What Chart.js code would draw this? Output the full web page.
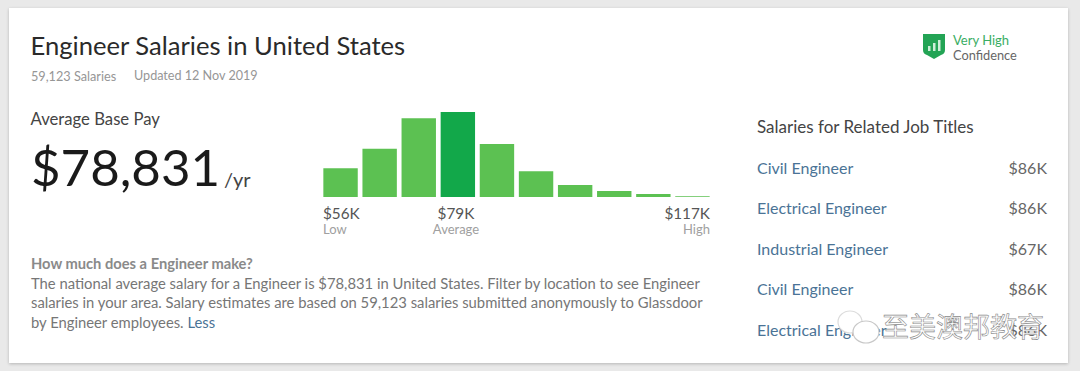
<!DOCTYPE html>
<html>
<head>
<meta charset="utf-8">
<script src="https://cdn.jsdelivr.net/npm/chart.js@4/dist/chart.umd.min.js"></script>
<style>
html,body{margin:0;padding:0;width:1080px;height:371px;overflow:hidden;background:#e9e9e9;font-family:Lato,sans-serif;}
body{filter:blur(.35px);}
#card{position:absolute;left:9px;top:8px;width:1059px;height:355px;background:#fff;box-shadow:0 1px 3px rgba(0,0,0,.22);}
.t{position:absolute;white-space:nowrap;line-height:1;}
#chartBox{position:absolute;left:321px;top:107px;width:391px;height:90px;}
a{color:#4a7396;text-decoration:none;}
</style>
</head>
<body>
<div id="card"></div>
<div class="t" style="left:30.5px;top:33px;font-size:25.6px;color:#2a2a2a;">Engineer Salaries in United States</div>
<div class="t" style="left:31px;top:70px;font-size:12.7px;color:#969696;">59,123 Salaries</div>
<div class="t" style="left:134px;top:70px;font-size:12.6px;color:#969696;">Updated 12 Nov 2019</div>

<svg style="position:absolute;left:922px;top:33px" width="24" height="28" viewBox="0 0 24 28">
  <path d="M1 1H23V17Q23 21 19 22L12 26L5 22Q1 21 1 17Z" fill="#23a455"/>
  <rect x="6" y="13" width="2.5" height="5" fill="#cdeed8"/>
  <rect x="11" y="10" width="2.5" height="8" fill="#cdeed8"/>
  <rect x="16" y="7" width="2.5" height="11" fill="#cdeed8"/>
</svg>
<div class="t" style="left:953px;top:34px;font-size:13px;color:#3aad63;">Very High</div>
<div class="t" style="left:953px;top:49px;font-size:12.8px;color:#666;">Confidence</div>

<div class="t" style="left:30.5px;top:111px;font-size:16.7px;color:#444;">Average Base Pay</div>
<div class="t" style="left:31px;top:141px;font-size:51px;color:#1a1a1a;">$78,831</div>
<div class="t" style="left:224px;top:169px;font-size:20px;color:#444;">/yr</div>

<div id="chartBox"><canvas id="salaryChart"></canvas></div>
<div id="tickBox"></div>

<div class="t" style="left:31px;top:256px;font-size:14.7px;font-weight:700;color:#8a8a8a;">How much does a Engineer make?</div>
<div class="t" style="left:31px;top:276px;font-size:14.8px;color:#767676;">The national average salary for a Engineer is $78,831 in United States. Filter by location to see Engineer</div>
<div class="t" style="left:31px;top:295px;font-size:14.8px;color:#767676;">salaries in your area. Salary estimates are based on 59,123 salaries submitted anonymously to Glassdoor</div>
<div class="t" style="left:31px;top:315px;font-size:14.8px;color:#767676;">by Engineer employees. <a>Less</a></div>

<div class="t" style="left:757px;top:118px;font-size:17px;color:#444;">Salaries for Related Job Titles</div>
<div id="related"></div>

<svg style="position:absolute;left:836px;top:308px" width="54" height="40" viewBox="0 0 54 40" fill="none" stroke-width="1.2">
  <ellipse cx="14" cy="14" rx="12" ry="11" fill="#fff" stroke="#dcdcdc"/>
  <ellipse cx="30" cy="24" rx="13" ry="11" fill="#fff" stroke="#c8c8c8"/>
</svg>
<div class="t" style="left:882px;top:312px;font-size:27px;font-family:'Noto Sans CJK SC';color:#fff;-webkit-text-stroke:0.6px #8a8a8a;">至美澳邦教育</div>

<script>
// ---- data ----
const bins = ["1","2","3","4","5","6","7","8","9","10"];
const counts = [28.7,48.3,78.7,85,53,25.7,12,6,3,0.7];
const averageBin = 3;
const tickValues = ["$56K","$79K","$117K"];
const tickNames = ["Low","Average","High"];
const relatedTitles = ["Civil Engineer","Electrical Engineer","Industrial Engineer","Civil Engineer","Electrical Engineer"];
const relatedPay = ["$86K","$86K","$67K","$86K","$86K"];

new Chart(document.getElementById("salaryChart"),{
  type:"bar",
  data:{
    labels:bins,
    datasets:[{
      data:counts,
      backgroundColor:bins.map((b,i)=> i===averageBin ? "#12a84a" : "#5cc152"),
      barPercentage:0.88,
      categoryPercentage:1
    }]
  },
  options:{
    responsive:true,
    maintainAspectRatio:false,
    animation:false,
    layout:{padding:0},
    plugins:{legend:{display:false},tooltip:{enabled:false}},
    scales:{
      x:{display:false,offset:true},
      y:{display:false,min:0,max:90}
    }
  }
});

// tick captions below the bars
const tickBox = document.getElementById("tickBox");
const tickPos = [
  "left:323px",
  "left:456px;transform:translateX(-50%)",
  "right:370px"
];
tickValues.forEach((v,i)=>{
  tickBox.innerHTML += `<div class="t" style="${tickPos[i]};top:206px;font-size:15.3px;color:#555;">${v}</div>`;
  tickBox.innerHTML += `<div class="t" style="${tickPos[i]};top:223px;font-size:13px;color:#a0a0a0;">${tickNames[i]}</div>`;
});

// related job list
const related = document.getElementById("related");
relatedTitles.forEach((name,i)=>{
  const top = 160 + i*40.4;
  related.innerHTML += `<div class="t" style="left:757px;top:${top}px;font-size:16px;color:#4a7396;">${name}</div>`;
  related.innerHTML += `<div class="t" style="right:33px;top:${top}px;font-size:16px;color:#666;">${relatedPay[i]}</div>`;
});
</script>
</body>
</html>
